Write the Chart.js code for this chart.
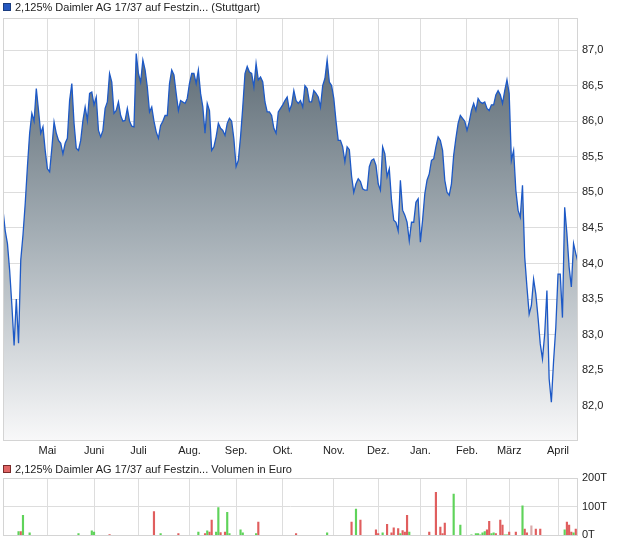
<!DOCTYPE html>
<html>
<head>
<meta charset="utf-8">
<script src="https://cdn.jsdelivr.net/npm/chart.js@4/dist/chart.umd.min.js"></script>
<style>
  html, body { margin: 0; padding: 0; background: #fff; }
  #wrap { position: relative; width: 620px; height: 546px; font-family: "Liberation Sans", Arial, sans-serif; }
  .box { position: absolute; left: 0; width: 620px; }
  .leg { position: absolute; left: 3px; font-size: 11px; color: #222; white-space: nowrap; line-height: 12px; }
  .leg i { display: inline-block; width: 6px; height: 6px; margin-right: 4px; vertical-align: 0; }
</style>
</head>
<body>
<div id="wrap">
  <div class="box" style="top:0;height:460px"><canvas id="price" width="620" height="460"></canvas></div>
  <div class="box" style="top:460px;height:86px"><canvas id="vol" width="620" height="86"></canvas></div>
  <div class="leg" style="top:1px"><i style="background:#2457c0;border:1px solid #1b3d80"></i>2,125% Daimler AG 17/37 auf Festzin... (Stuttgart)</div>
  <div class="leg" style="top:463px"><i style="background:#e06565;border:1px solid #7a2a2a"></i>2,125% Daimler AG 17/37 auf Festzin... Volumen in Euro</div>
</div>
<script>
// month gridlines sit on the first trading day of each month (index into PRICE)
const MONTHS = ['Mai', 'Juni', 'Juli', 'Aug.', 'Sep.', 'Okt.', 'Nov.', 'Dez.', 'Jan.', 'Feb.', 'März', 'April'];
const MONTH_IDX = [20, 41, 61, 84, 105, 126, 149, 169, 188, 209, 228, 250];
const Y_TICKS = [82.0, 82.5, 83.0, 83.5, 84.0, 84.5, 85.0, 85.5, 86.0, 86.5, 87.0];
const VOL_TICKS = [0, 100, 200];

// daily closing prices (Stuttgart), one per trading day
const PRICE = [
  84.75, 84.46, 84.28, 83.90, 83.41, 82.85, 83.50, 82.88, 84.05, 84.40,
  84.84, 85.36, 85.83, 86.11, 86.00, 86.46, 86.15, 85.83, 85.92, 85.59,
  85.33, 85.29, 85.62, 85.99, 85.83, 85.73, 85.69, 85.54, 85.69, 85.76,
  86.29, 86.53, 85.97, 85.62, 85.59, 85.73, 86.01, 86.20, 86.01, 86.39,
  86.41, 86.23, 86.34, 85.87, 85.78, 85.87, 86.18, 86.27, 86.67, 86.55,
  86.11, 86.15, 86.27, 86.08, 86.00, 86.01, 86.18, 86.00, 85.93, 85.92,
  86.95, 86.67, 86.55, 86.86, 86.72, 86.48, 86.13, 86.20, 86.00, 85.85,
  85.76, 85.94, 86.00, 86.08, 86.08, 86.53, 86.72, 86.65, 86.39, 86.15,
  86.29, 86.27, 86.25, 86.32, 86.53, 86.67, 86.67, 86.53, 86.72, 86.39,
  86.20, 85.83, 86.25, 86.15, 85.59, 85.64, 85.78, 85.97, 85.90, 85.87,
  85.80, 85.97, 86.04, 86.00, 85.75, 85.36, 85.45, 85.78, 86.20, 86.67,
  86.77, 86.69, 86.67, 86.48, 86.81, 86.58, 86.62, 86.55, 86.27, 86.13,
  86.13, 86.08, 85.90, 85.83, 86.13, 86.18, 86.23, 86.29, 86.34, 86.15,
  86.23, 86.43, 86.29, 86.25, 86.29, 86.20, 86.50, 86.46, 86.27, 86.27,
  86.43, 86.39, 86.34, 86.20, 86.50, 86.60, 86.86, 86.55, 86.50, 86.32,
  86.00, 85.73, 85.73, 85.64, 85.43, 85.64, 85.60, 85.23, 85.00, 85.12,
  85.19, 85.15, 85.05, 85.03, 85.03, 85.36, 85.45, 85.47, 85.38, 85.12,
  85.03, 85.64, 85.54, 85.22, 85.33, 84.89, 84.61, 84.58, 84.46, 85.17,
  84.75, 84.68, 84.58, 84.32, 84.58, 84.58, 84.86, 84.91, 84.30, 84.61,
  84.98, 85.17, 85.26, 85.45, 85.47, 85.64, 85.78, 85.73, 85.59, 85.17,
  85.00, 84.96, 85.12, 85.52, 85.76, 85.97, 86.08, 86.04, 86.00, 85.87,
  85.99, 86.15, 86.25, 86.15, 86.32, 86.27, 86.25, 86.27, 86.18, 86.15,
  86.23, 86.23, 86.37, 86.43, 86.37, 86.25, 86.43, 86.58, 86.39, 85.45,
  85.59, 85.03, 84.75, 84.65, 85.10, 84.09, 83.67, 83.29, 83.41, 83.78,
  83.57, 83.24, 82.87, 82.66, 83.01, 83.62, 82.38, 82.05, 82.63, 83.10,
  83.85, 83.85, 83.24, 84.79, 84.42, 83.95, 83.67, 84.28, 84.14, 84.02
];

// traded volume in thousand euro on the days with turnover
const VOL_IDX = [7, 8, 9, 12, 34, 40, 41, 48, 68, 71, 79, 88, 91, 92, 93, 94, 96, 97, 98, 100,
  101, 102, 107, 108, 114, 115, 132, 146, 157, 159, 161, 168, 169, 171, 173, 175, 176, 178, 179, 180,
  181, 182, 183, 192, 195, 197, 198, 199, 203, 206, 211, 213, 214, 215, 216, 217, 218, 219, 220, 221,
  222, 224, 225, 226, 227, 228, 231, 234, 235, 236, 238, 240, 242, 253, 254, 255, 256, 257, 258, 259];
const VOL_T = [13, 13, 70, 9, 6, 16, 12, 3, 83, 6, 6, 12, 6, 16, 12, 53, 12, 97, 10, 12,
  80, 6, 19, 9, 6, 46, 6, 9, 46, 92, 53, 19, 6, 9, 39, 9, 26, 24, 6, 17,
  12, 70, 12, 12, 150, 29, 6, 43, 144, 36, 1, 6, 6, 2, 9, 13, 19, 49, 6, 9,
  6, 53, 36, 2, 2, 12, 12, 103, 22, 9, 33, 22, 22, 19, 46, 36, 12, 9, 22, 9];
const VOL_DIR = ['g', 'r', 'g', 'g', 'g', 'g', 'g', 'r', 'r', 'g', 'r', 'g', 'r', 'g', 'r', 'r', 'g', 'g', 'r', 'r',
  'g', 'g', 'g', 'g', 'g', 'r', 'r', 'g', 'r', 'g', 'r', 'r', 'r', 'g', 'r', 'r', 'r', 'r', 'g', 'r',
  'r', 'r', 'g', 'r', 'r', 'r', 'r', 'r', 'g', 'g', 'g', 'g', 'g', 'g', 'g', 'g', 'r', 'r', 'g', 'g',
  'r', 'r', 'r', 'g', 'g', 'r', 'r', 'g', 'r', 'r', 'n', 'r', 'r', 'g', 'r', 'r', 'r', 'g', 'r', 'r'];

const FONT = { family: '"Liberation Sans", Arial, sans-serif', size: 11 };
const GRID = '#dddddd';
const TXT = '#222';

// plain gray frame round the plot area (Chart.js only draws the axis side)
const framePlugin = {
  id: 'frame',
  afterDraw(chart) {
    const a = chart.chartArea, c = chart.ctx;
    c.save();
    c.strokeStyle = '#d4d4d4';
    c.lineWidth = 1;
    c.strokeRect(Math.round(a.left) + 0.5, Math.round(a.top) + 0.5, Math.round(a.right - a.left) - 1, Math.round(a.bottom - a.top));
    c.restore();
  }
};

function monthAxis(showLabels, h) {
  return {
    type: 'linear', min: 0, max: PRICE.length - 1, offset: false,
    afterBuildTicks: function (s) { s.ticks = MONTH_IDX.map(function (v) { return { value: v }; }); },
    afterFit: function (s) { s.height = h; },
    grid: { color: GRID, drawTicks: false, offset: false },
    border: { display: false },
    ticks: { display: showLabels, autoSkip: false, maxRotation: 0, padding: 4, color: TXT, font: FONT,
      callback: function (v) { return MONTHS[MONTH_IDX.indexOf(v)]; } },
  };
}

new Chart(document.getElementById('price').getContext('2d'), {
  type: 'line',
  data: {
    datasets: [{
      data: PRICE.map(function (v, i) { return { x: i, y: v }; }),
      borderColor: '#1d59c6', borderWidth: 1.3, pointRadius: 0, tension: 0,
      fill: 'start',
      backgroundColor: function (ctx) {
        const a = ctx.chart.chartArea; if (!a) return '#9aa5ad';
        const g = ctx.chart.ctx.createLinearGradient(0, a.top, 0, a.bottom);
        g.addColorStop(0, '#515f69');
        g.addColorStop(0.5, '#a2acb3');
        g.addColorStop(1, '#f8f8f9');
        return g;
      },
    }]
  },
  options: {
    responsive: false, animation: false, events: [],
    layout: { padding: { left: 3, top: 18, right: 0, bottom: 0 } },
    plugins: { legend: { display: false }, tooltip: { enabled: false } },
    scales: {
      x: monthAxis(true, 20),
      y: {
        position: 'right', min: 81.52, max: 87.45,
        afterBuildTicks: function (s) { s.ticks = Y_TICKS.map(function (v) { return { value: v }; }); },
        afterFit: function (s) { s.width = 42; },
        grid: { color: GRID, drawTicks: false },
        border: { display: false },
        ticks: { padding: 4, color: TXT, font: FONT, callback: function (v) { return v.toFixed(1).replace('.', ','); } },
      },
    },
  },
  plugins: [framePlugin],
});

function volSet(dir, color) {
  const pts = [];
  VOL_IDX.forEach(function (x, k) { if (VOL_DIR[k] === dir) pts.push({ x: x, y: VOL_T[k] }); });
  return { data: pts, backgroundColor: color, barThickness: 1.5, grouped: false };
}

new Chart(document.getElementById('vol').getContext('2d'), {
  type: 'bar',
  data: { datasets: [volSet('g', '#5fd35a'), volSet('r', '#e05e5e'), volSet('n', '#d9aaaa')] },
  options: {
    responsive: false, animation: false, events: [],
    layout: { padding: { left: 3, top: 18, right: 0, bottom: 9 } },
    plugins: { legend: { display: false }, tooltip: { enabled: false } },
    scales: {
      x: monthAxis(false, 0),
      y: {
        position: 'right', min: 0, max: 200,
        afterBuildTicks: function (s) { s.ticks = VOL_TICKS.map(function (v) { return { value: v }; }); },
        afterFit: function (s) { s.width = 42; },
        grid: { color: GRID, drawTicks: false },
        border: { display: false },
        ticks: { padding: 4, color: TXT, font: FONT, callback: function (v) { return v + 'T'; } },
      },
    },
  },
  plugins: [framePlugin],
});
</script>
</body>
</html>
